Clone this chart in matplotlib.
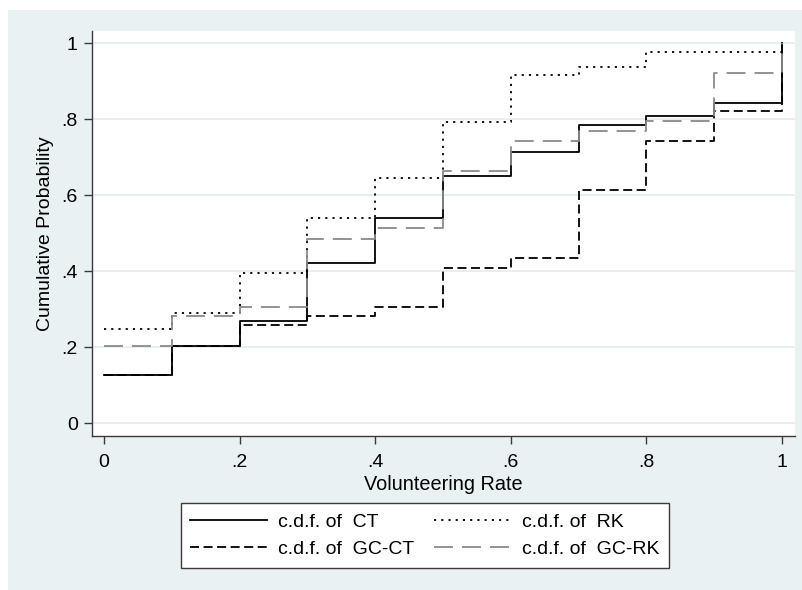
import matplotlib
matplotlib.use("Agg")
import matplotlib.pyplot as plt
from matplotlib.patches import Rectangle

plt.rcParams['font.family'] = ['Liberation Sans', 'DejaVu Sans']

# Volunteering rate support points and cumulative probabilities (step c.d.f.)
rates = [0.0, 0.1, 0.2, 0.3, 0.4, 0.5, 0.6, 0.7, 0.8, 0.9, 1.0]
cdf_ct = [0.127, 0.204, 0.269, 0.421, 0.540, 0.651, 0.713, 0.785, 0.809, 0.842, 1.0]
cdf_rk = [0.249, 0.291, 0.395, 0.540, 0.645, 0.792, 0.917, 0.937, 0.978, 0.978, 1.0]
cdf_gc_ct = [0.127, 0.204, 0.258, 0.282, 0.307, 0.409, 0.435, 0.614, 0.742, 0.823, 1.0]
cdf_gc_rk = [0.204, 0.282, 0.307, 0.486, 0.513, 0.664, 0.742, 0.770, 0.796, 0.923, 1.0]

labels = ["c.d.f. of  CT", "c.d.f. of  RK", "c.d.f. of  GC-CT", "c.d.f. of  GC-RK"]
x_ticks = [0, 0.2, 0.4, 0.6, 0.8, 1.0]
x_ticklabels = ["0", ".2", ".4", ".6", ".8", "1"]
y_ticks = [0, 0.2, 0.4, 0.6, 0.8, 1.0]
y_ticklabels = ["0", ".2", ".4", ".6", ".8", "1"]

W, H = 803, 590
bg = "#EAF1F3"
fig = plt.figure(figsize=(W / 100, H / 100), dpi=100)
fig.patch.set_facecolor("white")
fig.patches.append(Rectangle((8 / W, 0), 1 - 8 / W, 1 - 10 / H,
                             transform=fig.transFigure, facecolor=bg,
                             edgecolor="none", zorder=-10))

ax = fig.add_axes([91.7 / W, 1 - 435.7 / H, (795 - 91.7) / W, (435.7 - 30.7) / H])
ax.set_facecolor("white")

lw = 1.3
h_ct, = ax.step(rates, cdf_ct, where="post", color="black", lw=lw, ls="-")
h_rk, = ax.step(rates, cdf_rk, where="post", color="black", lw=lw,
                ls=(0, (1.2, 2.8)))
h_gcct, = ax.step(rates, cdf_gc_ct, where="post", color="black", lw=lw,
                  ls=(0, (5.0, 2.5)))
h_gcrk, = ax.step(rates, cdf_gc_rk, where="post", color="#8a8a8a", lw=lw,
                  ls=(0, (10.5, 5.0)))

ax.set_xlim(-0.0181, 1.0192)
ax.set_ylim(-0.0326, 1.033)
ax.set_xticks(x_ticks)
ax.set_xticklabels(x_ticklabels)
ax.set_yticks(y_ticks)
ax.set_yticklabels(y_ticklabels)
ax.yaxis.grid(True, color="#E6EEF0", lw=1.3)
ax.set_axisbelow(True)

for side in ("top", "right"):
    ax.spines[side].set_visible(False)
for side in ("left", "bottom"):
    ax.spines[side].set_color("#3a3a3a")
    ax.spines[side].set_linewidth(1.0)

ax.tick_params(axis="both", direction="out", length=6, width=1.0,
               color="#3a3a3a", labelsize=14, labelcolor="black")
ax.tick_params(axis="y", pad=4)
ax.tick_params(axis="x", pad=7)

ax.set_xlabel("Volunteering Rate", fontsize=14.3, labelpad=3)
ax.set_ylabel("Cumulative Probability", fontsize=14, labelpad=5)

handles = [h_ct, h_gcct, h_rk, h_gcrk]
leg_labels = [labels[0], labels[2], labels[1], labels[3]]
leg = fig.legend(handles, leg_labels, ncol=2, loc="center",
                 bbox_to_anchor=(425 / W, 1 - 535.5 / H),
                 fontsize=14, frameon=True, fancybox=False,
                 edgecolor="#3a3a3a", facecolor="white", framealpha=1,
                 handlelength=3.96, handletextpad=0.57, columnspacing=1.0,
                 labelspacing=0.5, borderpad=0.5)
leg.get_frame().set_linewidth(1.0)

fig.savefig("out.png", dpi=100, facecolor=fig.get_facecolor())
